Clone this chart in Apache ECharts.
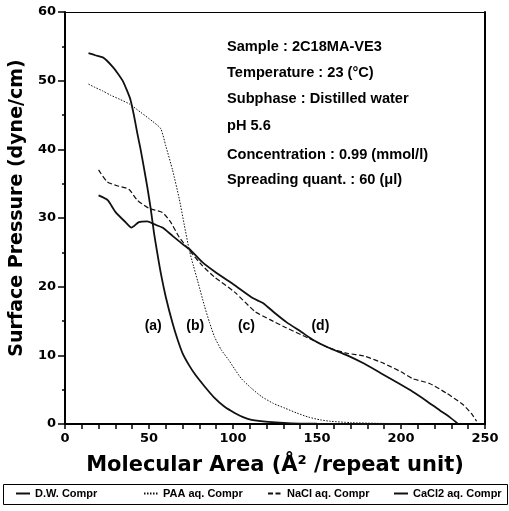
<!DOCTYPE html>
<html lang="en">
<head>
    <meta http-equiv="Content-Type" content="text/html;charset=utf-8">
    <script type="text/javascript" src="https://cdn.jsdelivr.net/npm/echarts@6/dist/echarts.min.js"></script>
    <title>Surface pressure isotherms</title>
    <style>
        html, body { margin: 0; padding: 0; background: #fff; }
        #main { width: 509px; height: 511px; }
    </style>
</head>
<body>
<div id="main"></div>
<script>
    // isotherm data, [area (A^2/repeat unit), pressure (dyne/cm)]
    var dwCompr = [
        [14, 54.0], [18, 53.7], [22.5, 53.4], [25, 52.9], [28.4, 52.0], [31, 51.2], [34.3, 50.0],
        [37, 48.5], [39, 47.2], [41, 45.0], [43, 42.4], [45, 40.0], [47, 37.3], [49, 34.5],
        [51, 31.4], [53, 27.8], [55, 24.8], [57, 22.0], [60, 18.5], [64, 14.7], [67, 12.3],
        [70, 10.3], [74, 8.5], [77.5, 7.2], [83, 5.5], [89, 3.8], [95, 2.5], [101, 1.6],
        [106, 1.0], [111, 0.6], [121, 0.3], [135, 0.1], [150, 0.05], [180, 0.0], [205, 0.0]
    ];
    var paaCompr = [
        [14, 49.5], [18, 49.0], [22.5, 48.5], [27, 47.9], [32.5, 47.3], [38.4, 46.6], [45, 45.4],
        [52, 44.1], [57, 43.0], [60, 40.5], [64, 37.0], [68, 32.8], [71, 29.0], [74, 25.3],
        [76.5, 23.0], [79, 20.8], [83, 17.2], [86, 14.8], [89, 12.7], [93, 10.8], [97.5, 9.3],
        [101, 8.0], [105, 6.6], [111, 5.2], [117, 4.0], [124, 3.0], [131, 2.3], [138, 1.6],
        [145, 1.0], [152, 0.6], [158, 0.4], [170, 0.2], [185, 0.1], [200, 0.05], [215, 0.0]
    ];
    var naclCompr = [
        [20, 37.0], [25, 35.3], [31, 34.7], [38, 34.2], [43, 32.6], [50, 31.4], [58, 30.8],
        [62.6, 29.5], [68, 27.2], [74, 25.3], [81.6, 23.1], [89, 21.4], [101, 19.2], [113, 16.4],
        [122, 15.2], [131, 14.1], [145, 12.5], [157, 11.1], [168, 10.3], [178, 9.9], [190, 8.8],
        [200, 7.6], [207, 6.6], [217, 5.9], [227, 4.5], [237, 2.8], [242, 1.5], [245, 0.4]
    ];
    var cacl2Compr = [
        [20, 33.3], [25.4, 32.6], [30, 30.9], [36, 29.4], [39.6, 28.6], [44, 29.4], [49, 29.5],
        [53, 29.1], [58, 28.6], [64, 27.4], [70, 26.2], [74, 25.5], [81.6, 23.6], [89, 22.2],
        [101, 20.2], [112, 18.3], [118, 17.6], [124.7, 16.2], [132, 14.8], [140.7, 13.4],
        [148, 12.2], [157, 11.1], [168, 10.0], [178, 8.8], [188, 7.4], [198, 6.0], [207, 4.7],
        [215, 3.4], [223, 2.0], [229, 1.0], [234, 0.0]
    ];
    var seriesNames = ['D.W. Compr', 'PAA aq. Compr', 'NaCl aq. Compr', 'CaCl2 aq. Compr'];
    var curveTags = ['(a)', '(b)', '(c)', '(d)'];
    var tagArea = [52.5, 77.5, 108, 152];
    var tagPressure = [14.3, 14.3, 14.3, 14.3];
    var notes = [
        'Sample : 2C18MA-VE3',
        'Temperature : 23 (\u00B0C)',
        'Subphase : Distilled water',
        'pH 5.6',
        'Concentration : 0.99 (mmol/l)',
        'Spreading quant. : 60 (\u03BCl)'
    ];
    var noteTop = [47, 73, 99, 126, 155, 180];

    var FONT = '"Liberation Sans", Arial, sans-serif';
    var WIDE = '"DejaVu Sans", sans-serif';

    function draw() {
        var myChart = echarts.init(document.getElementById('main'));

        var legendLeft = [15, 143, 267, 393];
        var legends = seriesNames.map(function (name, i) {
            return {
                data: [name],
                left: legendLeft[i],
                top: 488,
                padding: 0,
                itemWidth: 14,
                itemHeight: 8,
                itemStyle: {opacity: 0},
                textStyle: {fontFamily: FONT, fontSize: 11, fontWeight: 'bold', color: '#000'},
                selectedMode: false
            };
        });

        var styles = [
            {width: 1.8, type: 'solid'},
            {width: 1, type: [1.5, 1.5]},
            {width: 1.2, type: [5, 2.5]},
            {width: 1.8, type: 'solid'}
        ];
        var datasets = [dwCompr, paaCompr, naclCompr, cacl2Compr];

        var series = datasets.map(function (d, i) {
            return {
                name: seriesNames[i],
                type: 'line',
                data: d,
                symbol: 'none',
                smooth: 0.2,
                lineStyle: {color: '#111', width: styles[i].width, type: styles[i].type},
                itemStyle: {color: '#111'},
                z: 3
            };
        });
        // curve tags (a)..(d)
        series.push({
            type: 'scatter',
            data: tagArea.map(function (x, i) { return [x, tagPressure[i], curveTags[i]]; }),
            symbolSize: 0,
            itemStyle: {opacity: 1},
            label: {
                show: true,
                formatter: function (p) { return p.data[2]; },
                position: 'inside',
                fontFamily: FONT, fontSize: 14, fontWeight: 'bold', color: '#000'
            },
            silent: true
        });

        var noteGraphics = notes.map(function (t, i) {
            return {
                type: 'text',
                left: 227,
                top: noteTop[i] - 8,
                style: {text: t, font: 'bold 14.6px ' + FONT, fill: '#000'}
            };
        });
        noteGraphics.push({
            type: 'rect',
            shape: {x: 3.5, y: 484.5, width: 504, height: 20},
            style: {fill: 'none', stroke: '#000', lineWidth: 1},
            z: -1
        });

        var option = {
            animation: false,
            backgroundColor: '#fff',
            textStyle: {fontFamily: FONT},
            grid: {left: 62, right: 24, top: 12, bottom: 87},
            legend: legends,
            graphic: noteGraphics,
            xAxis: [{
                type: 'value',
                min: 0, max: 250, interval: 50,
                name: 'Molecular Area (\u00C5\u00B2 /repeat unit)',
                nameLocation: 'middle',
                nameGap: 31,
                nameTextStyle: {fontFamily: WIDE, fontSize: 21, fontWeight: 'bold', color: '#000'},
                axisLine: {lineStyle: {color: '#000', width: 2}},
                axisTick: {show: true, length: 5, inside: false, lineStyle: {color: '#000', width: 1.5}},
                minorTick: {show: true, splitNumber: 5, length: 5, lineStyle: {color: '#000', width: 1.5}},
                axisLabel: {fontFamily: WIDE, fontSize: 13, fontWeight: 'bold', color: '#000', margin: 8},
                splitLine: {show: false}
            }, {
                type: 'value',
                position: 'top',
                min: 0, max: 250,
                axisLine: {show: true, onZero: false, lineStyle: {color: '#000', width: 1}},
                axisTick: {show: false},
                axisLabel: {show: false},
                splitLine: {show: false}
            }],
            yAxis: [{
                type: 'value',
                min: 0, max: 60, interval: 10,
                name: 'Surface Pressure (dyne/cm)',
                nameLocation: 'middle',
                nameGap: 36,
                nameTextStyle: {
                    fontFamily: WIDE, fontSize: 19, fontWeight: 'bold', color: '#000',
                    padding: [0, 0, 0, 20]
                },
                axisLine: {show: true, lineStyle: {color: '#000', width: 2}},
                axisTick: {show: true, length: 7, lineStyle: {color: '#000', width: 1.5}},
                minorTick: {show: true, splitNumber: 2, length: 3, lineStyle: {color: '#000', width: 1.5}},
                axisLabel: {fontFamily: WIDE, fontSize: 13, fontWeight: 'bold', color: '#000', margin: 9},
                splitLine: {show: false}
            }, {
                type: 'value',
                position: 'right',
                min: 0, max: 60,
                axisLine: {show: true, onZero: false, lineStyle: {color: '#000', width: 2}},
                axisTick: {show: false},
                axisLabel: {show: false},
                splitLine: {show: false}
            }],
            series: series
        };
        myChart.setOption(option);
    }

    draw();
</script>
</body>
</html>
